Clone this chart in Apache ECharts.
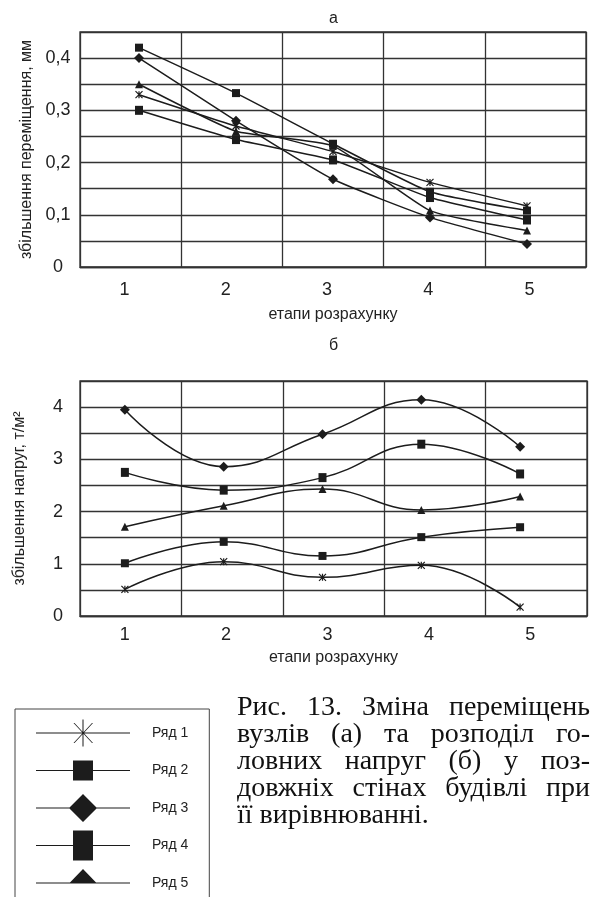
<!DOCTYPE html>
<html>
<head>
<meta charset="utf-8">
<script src="https://cdn.jsdelivr.net/npm/echarts@6/dist/echarts.min.js"></script>
<style>
  html, body { margin: 0; padding: 0; background: #fff; }
  #chart { width: 595px; height: 897px; }
</style>
</head>
<body>
<div id="chart"></div>
<script>
// stages of calculation (x axis)
var stages = ['1', '2', '3', '4', '5']
var rowNames = ['Ряд 1', 'Ряд 2', 'Ряд 3', 'Ряд 4', 'Ряд 5']

// а — збільшення переміщення, мм
var dispRow1 = [0.33, 0.27, 0.221, 0.162, 0.117]
var dispRow2 = [0.42, 0.333, 0.236, 0.144, 0.108]
var dispRow3 = [0.40, 0.28, 0.168, 0.095, 0.044]
var dispRow4 = [0.30, 0.244, 0.205, 0.133, 0.09]
var dispRow5 = [0.35, 0.26, 0.232, 0.108, 0.07]

// б — збільшення напруг, т/м2
var stressRow1 = [0.51, 1.04, 0.74, 0.97, 0.17]
var stressRow2 = [1.01, 1.42, 1.15, 1.51, 1.70]
var stressRow3 = [3.95, 2.86, 3.48, 4.14, 3.24]
var stressRow4 = [2.75, 2.41, 2.65, 3.29, 2.72]
var stressRow5 = [1.71, 2.11, 2.43, 2.03, 2.29]

var captionLines = [
  'Рис. 13. Зміна переміщень',
  'вузлів (а) та розподіл го-',
  'ловних напруг (б) у поз-',
  'довжніх стінах будівлі при',
  'її вирівнюванні.'
]

var INK = '#1c1c1c'
var GRIDC = '#333'
var SANS = '"Liberation Sans", Arial, sans-serif'
var SERIF = '"Liberation Serif", "Times New Roman", serif'

var STAR = 'path://M5,0L5,10M0,0L10,10M10,0L0,10'

// legend icons: line + marker inside a 94x30 box
var SPECKS = 'M0,0h0.01v0.01h-0.01z M0,29.99h0.01v0.01h-0.01z '
var LINE = 'M0,14.5h94v1h-94z '
var legendIcons = [
  'path://' + SPECKS + LINE + 'M46.5,1.5h1v27h-1z M37.5,5L38.5,5L57,25L56,25Z M56,5L57,5L38.5,25L37.5,25Z',
  'path://' + SPECKS + LINE + 'M37,5h20v20h-20z',
  'path://' + SPECKS + LINE + 'M47,1L61,15L47,29L33,15Z',
  'path://' + SPECKS + LINE + 'M37,0h20v30h-20z',
  'path://' + SPECKS + LINE + 'M47,1L61,15.5L33,15.5Z'
]

var chart = echarts.init(document.getElementById('chart'))

function frameX (gridIndex, labelMargin, nameGap) {
  return {
    type: 'category', gridIndex: gridIndex, data: stages, boundaryGap: true,
    axisTick: { show: false },
    axisLine: { show: true, lineStyle: { color: GRIDC, width: 1.3 } },
    splitLine: { show: true, lineStyle: { color: GRIDC, width: 1.3 } },
    axisLabel: { fontSize: 18, color: '#222', fontFamily: SANS, margin: labelMargin, padding: [0, 12, 0, 0] },
    name: 'етапи розрахунку', nameLocation: 'middle', nameGap: nameGap,
    nameTextStyle: { fontSize: 16, color: '#222', fontFamily: SANS }
  }
}

function frameY (gridIndex, max, interval, name, nameGap, step) {
  return {
    type: 'value', gridIndex: gridIndex, min: 0, max: max, interval: interval,
    axisLine: { show: false }, axisTick: { show: false },
    splitLine: { show: true, lineStyle: { color: GRIDC, width: 1.3 } },
    axisLabel: {
      fontSize: 18, color: '#222', fontFamily: SANS, align: 'center', margin: 22,
      formatter: function (v) {
        var k = v / step
        if (Math.abs(k - Math.round(k)) > 1e-6) return ''
        return String(Math.round(v * 100) / 100).replace('.', ',')
      }
    },
    name: name, nameLocation: 'middle', nameGap: nameGap,
    nameTextStyle: { fontSize: 16, color: '#222', fontFamily: SANS }
  }
}

function hiddenX (gridIndex) {
  return { type: 'category', gridIndex: gridIndex, data: stages, boundaryGap: true, show: false }
}
function hiddenY (gridIndex, max) {
  return { type: 'value', gridIndex: gridIndex, min: 0, max: max, show: false, splitLine: { show: false } }
}

function rowSeries (name, values, axis, symbol, size, smooth) {
  return {
    name: name, type: 'line', xAxisIndex: axis, yAxisIndex: axis,
    data: values, symbol: symbol, symbolSize: size, smooth: smooth,
    showAllSymbol: true,
    lineStyle: { color: INK, width: 1.5 },
    itemStyle: { color: INK, borderColor: INK, borderWidth: symbol === STAR ? 1.2 : 0 },
    emphasis: { disabled: true }, z: 3
  }
}

// caption, justified like in the printed figure
var capSize = 28
var capLeft = 237
var capRight = 590
var capTop = 708
var capStep = 27
var ctx = document.createElement('canvas').getContext('2d')
ctx.font = capSize + 'px ' + SERIF
var captionTexts = []
captionLines.forEach(function (line, i) {
  var y = capTop + i * capStep
  var words = line.split(' ')
  if (i === captionLines.length - 1) {
    captionTexts.push({ type: 'text', x: capLeft, y: y, style: { text: line, fontSize: capSize, fontFamily: SERIF, fill: '#111', verticalAlign: 'middle' } })
    return
  }
  var widths = words.map(function (w) { return ctx.measureText(w).width })
  var total = widths.reduce(function (a, b) { return a + b }, 0)
  var gap = (capRight - capLeft - total) / (words.length - 1)
  var x = capLeft
  words.forEach(function (w, j) {
    captionTexts.push({ type: 'text', x: x, y: y, style: { text: w, fontSize: capSize, fontFamily: SERIF, fill: '#111', verticalAlign: 'middle' } })
    x += widths[j] + gap
  })
})

chart.setOption({
  animation: false,
  title: [
    { text: 'а', left: 324, top: 6, textStyle: { fontSize: 16, fontWeight: 'normal', color: '#222', fontFamily: SANS } },
    { text: 'б', left: 324, top: 333, textStyle: { fontSize: 16, fontWeight: 'normal', color: '#222', fontFamily: SANS } }
  ],
  legend: {
    orient: 'vertical', left: 15, top: 709, height: 190,
    padding: [9, 21, 40, 21],
    borderColor: '#444', borderWidth: 1,
    itemWidth: 94, itemHeight: 30, itemGap: 7.5,
    selectedMode: false,
    itemStyle: { borderWidth: 0 },
    textStyle: { fontSize: 14, color: '#222', fontFamily: SANS, padding: [0, 0, 0, 17] },
    data: rowNames.map(function (n, i) { return { name: n, icon: legendIcons[i] } })
  },
  grid: [
    { left: 80, right: 9, top: 32, height: 235, show: true, borderColor: GRIDC, borderWidth: 1.3, outerBoundsMode: 'none' },
    { left: 90.5, width: 485, top: 32, height: 235, outerBoundsMode: 'none' },
    { left: 80, right: 8, top: 381, height: 235, show: true, borderColor: GRIDC, borderWidth: 1.3, outerBoundsMode: 'none' },
    { left: 75.5, width: 494, top: 381, height: 235, outerBoundsMode: 'none' }
  ],
  xAxis: [frameX(0, 14, 40), hiddenX(1), frameX(2, 10, 34), hiddenX(3)],
  yAxis: [
    frameY(0, 0.45, 0.05, 'збільшення переміщення, мм', 44, 0.1),
    hiddenY(1, 0.45),
    frameY(2, 4.5, 0.5, 'збільшення напруг, т/м²', 52, 1),
    hiddenY(3, 4.5)
  ],
  graphic: captionTexts,
  series: [
    rowSeries(rowNames[0], dispRow1, 1, STAR, 7, 0.15),
    rowSeries(rowNames[1], dispRow2, 1, 'rect', 8, 0.15),
    rowSeries(rowNames[2], dispRow3, 1, 'diamond', 10, 0.15),
    rowSeries(rowNames[3], dispRow4, 1, 'rect', [8, 9], 0.15),
    rowSeries(rowNames[4], dispRow5, 1, 'triangle', 8, 0.15),
    rowSeries(rowNames[0], stressRow1, 3, STAR, 7, 0.45),
    rowSeries(rowNames[1], stressRow2, 3, 'rect', 8, 0.45),
    rowSeries(rowNames[2], stressRow3, 3, 'diamond', 10, 0.45),
    rowSeries(rowNames[3], stressRow4, 3, 'rect', [8, 9], 0.45),
    rowSeries(rowNames[4], stressRow5, 3, 'triangle', 8, 0.45)
  ]
})
</script>
</body>
</html>
